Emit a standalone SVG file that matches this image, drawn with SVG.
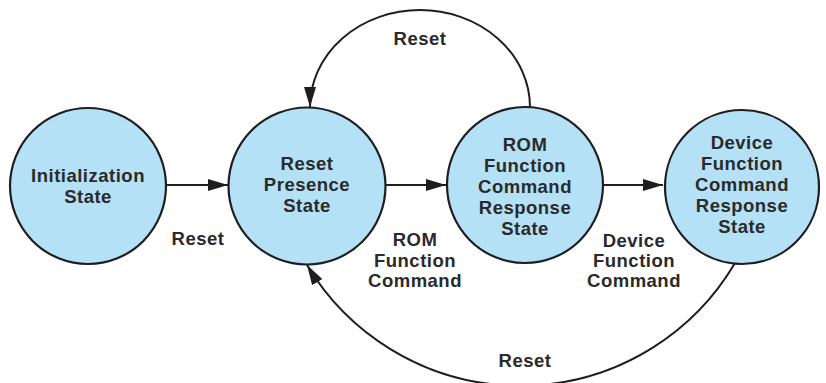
<svg xmlns="http://www.w3.org/2000/svg" width="826" height="383" viewBox="0 0 826 383">
  <style>
    .state { fill: #b5e1f7; stroke: #1e1e1e; stroke-width: 2.2; }
    .edge { fill: none; stroke: #1e1e1e; stroke-width: 2; }
    text { font-family: "Liberation Sans", Arial, sans-serif; font-weight: bold; font-size: 18.5px; letter-spacing: 0.5px; fill: #2a2a2a; text-anchor: middle; }
  </style>
  <defs>
    <marker id="arrow" viewBox="0 0 20 12" refX="20" refY="6" markerWidth="20" markerHeight="12" markerUnits="userSpaceOnUse" orient="auto">
      <path d="M0,0 L20,6 L0,12 Z" fill="#1e1e1e"/>
    </marker>
  </defs>
  <rect width="826" height="383" fill="#ffffff"/>

  <!-- transitions -->
  <g id="connectors">
    <path class="edge" d="M166,185 L228,185" marker-end="url(#arrow)"/>
    <path class="edge" d="M385,185 L446,185" marker-end="url(#arrow)"/>
    <path class="edge" d="M603,185 L663,185" marker-end="url(#arrow)"/>
    <path class="edge" d="M530,107 A110,97 0 0 0 310,107" marker-end="url(#arrow)"/>
    <path class="edge" d="M735,263 A249,249 0 0 1 307,265" marker-end="url(#arrow)"/>
  </g>

  <g id="initialization">
    <circle class="state" cx="88" cy="186" r="78"/>
    <text x="88" y="182">Initialization</text>
    <text x="88" y="203">State</text>
  </g>

  <g id="reset-presence">
    <circle class="state" cx="307" cy="186" r="78.5"/>
    <text x="307" y="170">Reset</text>
    <text x="307" y="191">Presence</text>
    <text x="307" y="212">State</text>
  </g>

  <g id="rom-function">
    <circle class="state" cx="525" cy="185" r="78"/>
    <text x="525" y="151">ROM</text>
    <text x="525" y="172">Function</text>
    <text x="525" y="193">Command</text>
    <text x="525" y="214">Response</text>
    <text x="525" y="235">State</text>
  </g>

  <g id="device-function">
    <circle class="state" cx="742" cy="187" r="77"/>
    <text x="742" y="149">Device</text>
    <text x="742" y="170">Function</text>
    <text x="742" y="191">Command</text>
    <text x="742" y="212">Response</text>
    <text x="742" y="233">State</text>
  </g>

  <!-- transition labels -->
  <g id="labels">
    <text x="198" y="245">Reset</text>
    <text x="420" y="45">Reset</text>
    <text x="415" y="246">ROM</text>
    <text x="415" y="267">Function</text>
    <text x="415" y="287">Command</text>
    <text x="634" y="247">Device</text>
    <text x="634" y="267">Function</text>
    <text x="634" y="287">Command</text>
    <text x="525" y="367">Reset</text>
  </g>
</svg>
